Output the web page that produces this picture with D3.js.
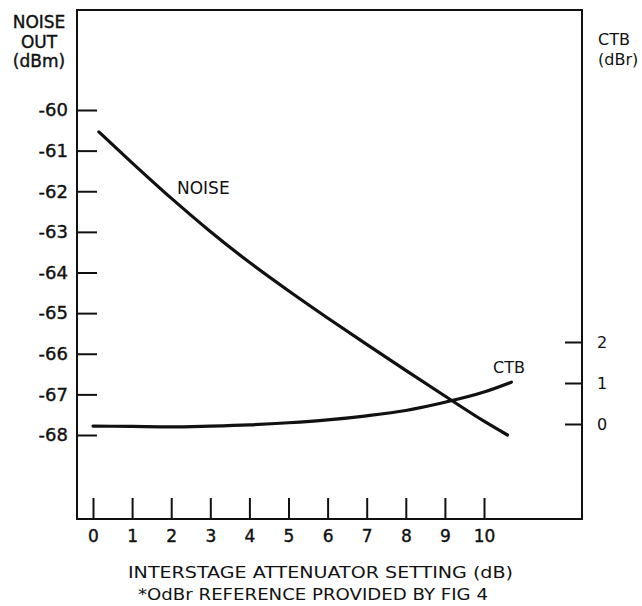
<!DOCTYPE html>
<html>
<head>
<meta charset="utf-8">
<script src="https://cdn.jsdelivr.net/npm/d3@7"></script>
<style>
  body { margin: 0; background: #fff; }
  svg text { font-family: "DejaVu Sans", "Liberation Sans", sans-serif; fill: #111; }
  .heavy { stroke: #111; stroke-width: 0.4px; }
</style>
</head>
<body>
<svg id="chart" width="642" height="606"></svg>
<script>
// Interstage attenuator setting (dB) vs noise out and CTB
const xTicks = [0, 1, 2, 3, 4, 5, 6, 7, 8, 9, 10];
const noiseTicks = [-60, -61, -62, -63, -64, -65, -66, -67, -68];
const ctbTicks = [0, 1, 2];

const noiseAtten = [0.15, 1, 2, 3, 4, 5, 6, 7, 8, 9, 10, 10.6];
const noiseOut = [-60.54, -61.3, -62.17, -62.99, -63.75, -64.45, -65.12, -65.77, -66.41, -67.04, -67.66, -68.0];

const ctbAtten = [0, 1, 2, 3, 4, 5, 6, 7, 8, 9, 10, 10.7];
const ctbOut = [-0.05, -0.06, -0.07, -0.05, -0.02, 0.03, 0.1, 0.2, 0.33, 0.53, 0.78, 1.02];

const svg = d3.select("#chart");

// frame of the plot
const frame = { left: 77, right: 582, top: 10, bottom: 519 };

const x = d3.scaleLinear().domain([0, 10]).range([93, 484]);
const yNoise = d3.scaleLinear().domain([-68, -60]).range([435, 110]);
const yCtb = d3.scaleLinear().domain([0, 2]).range([424, 342]);

svg.append("rect")
  .attr("x", frame.left)
  .attr("y", frame.top)
  .attr("width", frame.right - frame.left)
  .attr("height", frame.bottom - frame.top)
  .attr("fill", "none")
  .attr("stroke", "#111")
  .attr("stroke-width", 2);

// left axis (ticks point inward)
const leftAxis = svg.append("g")
  .attr("transform", `translate(${frame.left},0)`)
  .call(d3.axisLeft(yNoise).tickValues(noiseTicks).tickSize(-20).tickPadding(9).tickFormat(d => String(d)));

// right axis
const rightAxis = svg.append("g")
  .attr("transform", `translate(${frame.right},0)`)
  .call(d3.axisRight(yCtb).tickValues(ctbTicks).tickSize(-17).tickPadding(15).tickFormat(d => String(d)));

// bottom axis
const bottomAxis = svg.append("g")
  .attr("transform", `translate(0,${frame.bottom})`)
  .call(d3.axisBottom(x).tickValues(xTicks).tickSize(-21).tickPadding(11).tickFormat(d => String(d)));

[leftAxis, rightAxis, bottomAxis].forEach(g => {
  g.select(".domain").remove();
  g.selectAll(".tick line").attr("stroke", "#111").attr("stroke-width", 2);
  g.selectAll(".tick text").style("font-size", "17px").style("fill", "#111");
});
leftAxis.selectAll(".tick text").attr("class", "heavy").style("font-size", "18px");
bottomAxis.selectAll(".tick text").attr("class", "heavy");
rightAxis.selectAll(".tick text").style("font-size", "16px");

const line = d3.line().curve(d3.curveMonotoneX);

svg.append("path")
  .attr("d", line(noiseAtten.map((a, i) => [x(a), yNoise(noiseOut[i])])))
  .attr("fill", "none")
  .attr("stroke", "#111")
  .attr("stroke-width", 3.2)
  .attr("stroke-linecap", "round");

svg.append("path")
  .attr("d", line(ctbAtten.map((a, i) => [x(a), yCtb(ctbOut[i])])))
  .attr("fill", "none")
  .attr("stroke", "#111")
  .attr("stroke-width", 3.2)
  .attr("stroke-linecap", "round");

// curve labels
svg.append("text").attr("x", 177).attr("y", 194).style("font-size", "17px").text("NOISE");
svg.append("text").attr("x", 493).attr("y", 373).style("font-size", "16px").text("CTB");

// axis titles
const leftTitle = svg.append("text").attr("class", "heavy").attr("text-anchor", "middle").style("font-size", "17px");
["NOISE", "OUT", "(dBm)"].forEach((t, i) => {
  leftTitle.append("tspan").attr("x", 39).attr("y", 28 + i * 19.5).text(t);
});

const rightTitle = svg.append("text").style("font-size", "16px");
["CTB", "(dBr)"].forEach((t, i) => {
  rightTitle.append("tspan").attr("x", 598).attr("y", 45 + i * 20).text(t);
});

svg.append("text")
  .attr("x", 128).attr("y", 578)
  .attr("textLength", 385)
  .attr("lengthAdjust", "spacingAndGlyphs")
  .style("font-size", "16px")
  .text("INTERSTAGE ATTENUATOR SETTING (dB)");

svg.append("text")
  .attr("x", 138).attr("y", 600)
  .attr("textLength", 350)
  .attr("lengthAdjust", "spacingAndGlyphs")
  .style("font-size", "16px")
  .text("*OdBr REFERENCE PROVIDED BY FIG 4");
</script>
</body>
</html>
